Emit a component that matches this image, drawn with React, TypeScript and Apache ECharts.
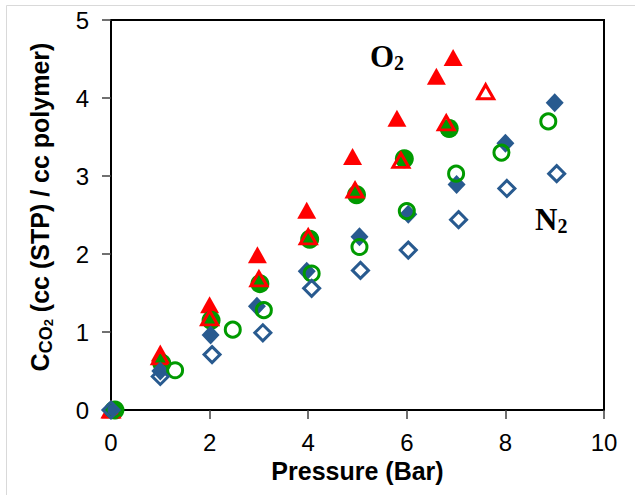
import React, { useEffect, useRef } from "react";
import * as echarts from "echarts";

// [pressure (bar), concentration]
const o2FilledTri = [[0, 0], [1.0, 0.73], [2.0, 1.35], [2.97, 1.99], [3.97, 2.56], [4.9, 3.25], [5.8, 3.74], [6.6, 4.28], [6.94, 4.52]];
const greenFilledCircle = [[0.08, 0], [1.03, 0.6], [2.03, 1.15], [3.02, 1.62], [4.03, 2.19], [4.98, 2.76], [5.95, 3.22], [6.86, 3.61]];
const o2OpenTri = [[0, 0], [1.0, 0.68], [2.0, 1.18], [3.0, 1.68], [4.0, 2.22], [4.95, 2.82], [5.88, 3.2], [6.8, 3.68], [7.6, 4.08]];
const blueFilledDiamond = [[0, 0], [1.0, 0.5], [2.02, 0.96], [2.96, 1.33], [3.97, 1.78], [5.04, 2.22], [6.03, 2.51], [7.01, 2.89], [8.0, 3.42], [9.0, 3.94]];
const greenOpenCircle = [[0.05, 0], [1.3, 0.51], [2.47, 1.03], [3.1, 1.28], [4.07, 1.75], [5.04, 2.09], [6.0, 2.55], [7.0, 3.03], [7.92, 3.3], [8.87, 3.7]];
const n2OpenDiamond = [[0, 0], [1.0, 0.43], [2.05, 0.71], [3.08, 0.99], [4.07, 1.56], [5.06, 1.79], [6.03, 2.05], [7.05, 2.44], [8.03, 2.84], [9.04, 3.03]];

const xTicks = { min: 0, max: 10, interval: 2 };
const yTicks = { min: 0, max: 5, interval: 1 };

const RED = "#ff0000";
const GREEN = "#009a00";
const BLUE = "#285a8f";

export default function App() {
  const ref = useRef<HTMLDivElement>(null);
  useEffect(() => {
    document.body.style.margin = "0";
    const chart = echarts.init(ref.current!, null, { renderer: "svg" });
    const sans = "Liberation Sans, Arial, sans-serif";
    const serif = "Liberation Serif, Times New Roman, serif";
    const labelRich = {
      a: { fontFamily: serif, fontWeight: "bold", fontSize: 31, lineHeight: 34, fill: "#000" },
      b: { fontFamily: serif, fontWeight: "bold", fontSize: 20, verticalAlign: "bottom", fill: "#000" },
    };
    chart.setOption({
      animation: false,
      backgroundColor: "#ffffff",
      grid: { left: 111, top: 20, right: 31, bottom: 85, show: true, borderColor: "#000", borderWidth: 2 },
      xAxis: {
        type: "value",
        min: xTicks.min,
        max: xTicks.max,
        interval: xTicks.interval,
        name: "Pressure (Bar)",
        nameLocation: "middle",
        nameGap: 44,
        nameTextStyle: { fontFamily: sans, fontWeight: "bold", fontSize: 25, color: "#000" },
        axisLine: { show: true, onZero: false, lineStyle: { color: "#000", width: 2 } },
        axisTick: { show: true, inside: false, length: 9, lineStyle: { color: "#404040", width: 1.5 } },
        axisLabel: { fontFamily: sans, fontSize: 24, color: "#000", margin: 20 },
        splitLine: { show: false },
      },
      yAxis: {
        type: "value",
        min: yTicks.min,
        max: yTicks.max,
        interval: yTicks.interval,
        name: "{a|C}{b|CO}{c|2}{a| (cc (STP) / cc polymer)}",
        nameLocation: "middle",
        nameGap: 56,
        nameTextStyle: {
          fontFamily: sans,
          color: "#000",
          padding: [0, 0, 0, 16],
          rich: {
            a: { fontFamily: sans, fontWeight: "bold", fontSize: 25, lineHeight: 31, color: "#000" },
            b: { fontFamily: sans, fontWeight: "bold", fontSize: 18, verticalAlign: "bottom", color: "#000" },
            c: { fontFamily: sans, fontWeight: "bold", fontSize: 13, verticalAlign: "bottom", color: "#000", padding: [4, 0, 0, 0] },
          },
        },
        axisLine: { show: true, onZero: false, lineStyle: { color: "#000", width: 2 } },
        axisTick: { show: true, inside: false, length: 9, lineStyle: { color: "#404040", width: 1.5 } },
        axisLabel: { fontFamily: sans, fontSize: 24, color: "#000", margin: 22 },
        splitLine: { show: false },
      },
      graphic: [
        {
          type: "rect",
          silent: true,
          shape: { x: 6.5, y: 5.5, width: 700, height: 700 },
          style: { fill: "none", stroke: "#d9d9d9", lineWidth: 1 },
        },
        {
          type: "text",
          x: 370,
          y: 56,
          style: { text: "{a|O}{b|2}", textVerticalAlign: "middle", rich: labelRich },
        },
        {
          type: "text",
          x: 535,
          y: 219,
          style: { text: "{a|N}{b|2}", textVerticalAlign: "middle", rich: labelRich },
        },
      ],
      series: [
        { type: "scatter", name: "O2 filled", data: o2FilledTri, clip: false, symbol: "triangle", symbolSize: [19, 17], itemStyle: { color: RED, opacity: 1 } },
        { type: "scatter", name: "green filled", data: greenFilledCircle, clip: false, symbol: "circle", symbolSize: 19, itemStyle: { color: GREEN, opacity: 1 } },
        { type: "scatter", name: "O2 open", data: o2OpenTri, clip: false, symbol: "triangle", symbolSize: [16, 14], itemStyle: { color: "transparent", borderColor: RED, borderWidth: 3, opacity: 1 } },
        { type: "scatter", name: "blue filled", data: blueFilledDiamond, clip: false, symbol: "diamond", symbolSize: [18, 19], itemStyle: { color: BLUE, opacity: 1 } },
        { type: "scatter", name: "green open", data: greenOpenCircle, clip: false, symbol: "circle", symbolSize: 15, itemStyle: { color: "transparent", borderColor: GREEN, borderWidth: 3, opacity: 1 } },
        { type: "scatter", name: "N2 open", data: n2OpenDiamond, clip: false, symbol: "diamond", symbolSize: 16, itemStyle: { color: "transparent", borderColor: BLUE, borderWidth: 3, opacity: 1 } },
      ],
    });
    return () => chart.dispose();
  }, []);
  return <div ref={ref} style={{ width: 635, height: 495 }} />;
}
